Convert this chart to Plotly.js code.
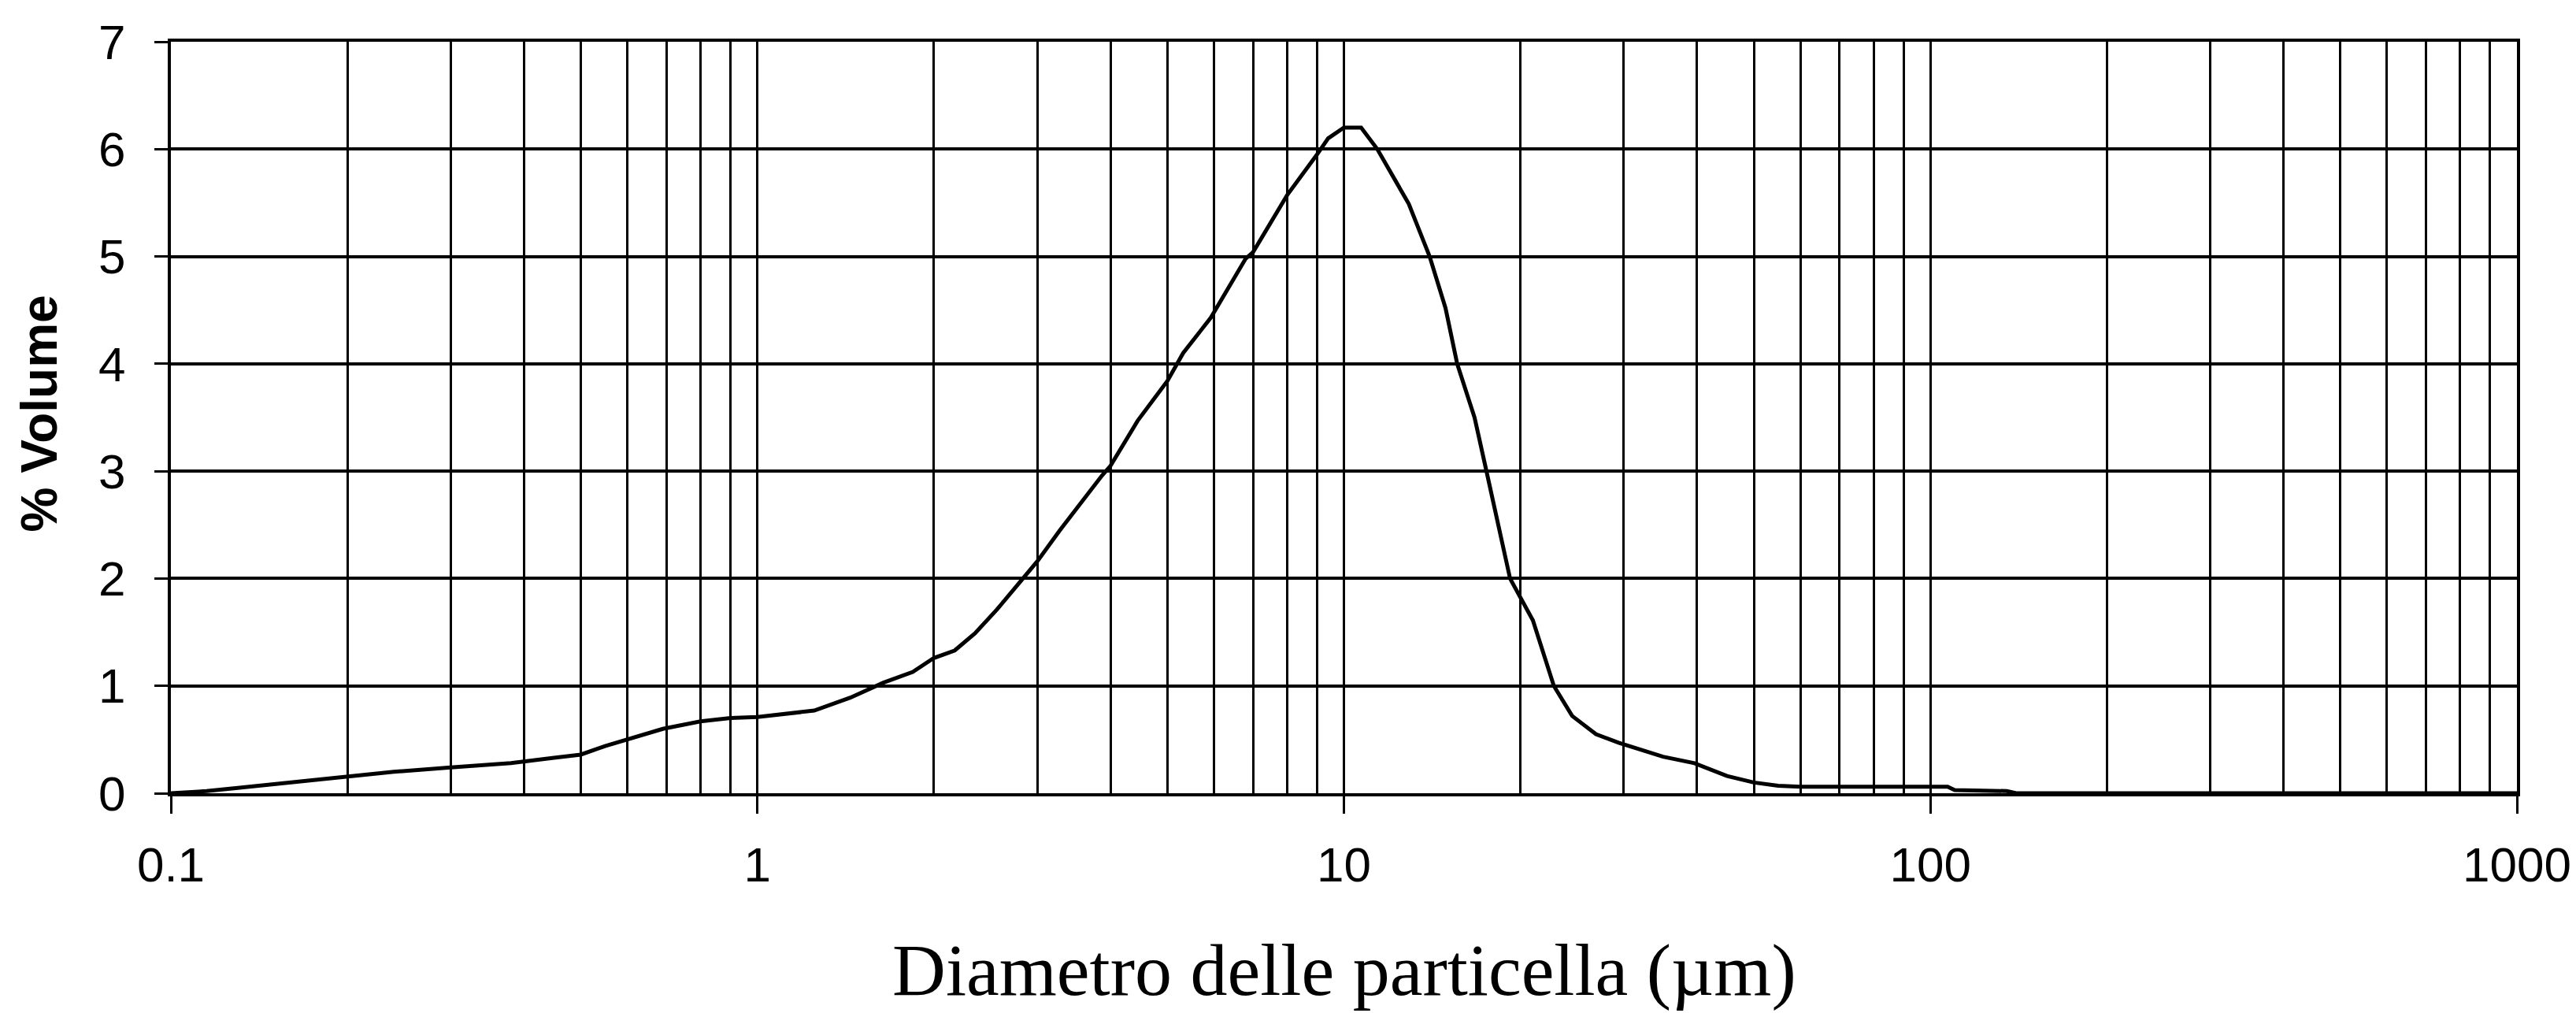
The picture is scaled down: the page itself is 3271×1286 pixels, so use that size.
<!DOCTYPE html>
<html>
<head>
<meta charset="utf-8">
<script src="https://cdn.plot.ly/plotly-3.0.1.min.js"></script>
<style>
  html, body { margin: 0; padding: 0; background: #ffffff; }
  #chart { width: 3271px; height: 1286px; }
</style>
</head>
<body>
<div id="chart"></div>
<script>
// Particle diameter (µm) and % volume
const diameter = [0.1, 0.115, 0.13, 0.16, 0.19, 0.24, 0.3, 0.38, 0.45, 0.5, 0.55, 0.6, 0.69, 0.8, 0.9, 1.0,
  1.25, 1.44, 1.64, 1.84, 2.0, 2.17, 2.35, 2.56, 2.78, 3.0, 3.28, 3.56, 3.87, 4.0, 4.45, 5.0, 5.32, 5.93,
  6.8, 7.0, 8.0, 9.0, 9.4, 10.0, 10.7, 11.4, 12.9, 14.0, 14.9, 15.6, 16.7, 17.5, 18.3, 19.2, 21.0, 22.8,
  24.5, 26.9, 29.4, 35, 39.6, 45, 50, 55, 60, 80, 107, 110, 135, 140, 200, 1000];
const volumePct = [0.0, 0.02, 0.05, 0.10, 0.15, 0.20, 0.24, 0.28, 0.33, 0.36, 0.44, 0.50, 0.60, 0.67, 0.70, 0.71,
  0.77, 0.89, 1.03, 1.13, 1.26, 1.33, 1.49, 1.71, 1.94, 2.16, 2.45, 2.71, 2.96, 3.05, 3.47, 3.84, 4.10, 4.43,
  4.98, 5.04, 5.57, 5.95, 6.1, 6.2, 6.2, 6.0, 5.49, 5.0, 4.52, 4.0, 3.5, 3.0, 2.5, 2.0, 1.61, 1.0,
  0.72, 0.55, 0.47, 0.34, 0.28, 0.16, 0.10, 0.07, 0.06, 0.06, 0.06, 0.03, 0.02, 0.0, 0.0, 0.0];

// Axis ticks
const xTickVals = [0.1, 1, 10, 100, 1000];
const xTickText = ["0.1", "1", "10", "100", "1000"];
const xMinorVals = [0.2, 0.3, 0.4, 0.5, 0.6, 0.7, 0.8, 0.9,
  2, 3, 4, 5, 6, 7, 8, 9,
  20, 30, 40, 50, 60, 70, 80, 90,
  200, 300, 400, 500, 600, 700, 800, 900];
const yTickVals = [0, 1, 2, 3, 4, 5, 6, 7];

const xTitle = "Diametro delle particella (µm)";
const yTitle = "% Volume";

const tickFont = { family: "'Liberation Sans Narrow', 'Arial Narrow', 'Liberation Sans', sans-serif", size: 62, color: "#000" };

const trace = {
  x: diameter,
  y: volumePct,
  type: "scatter",
  mode: "lines",
  line: { color: "#000000", width: 5 },
  hoverinfo: "skip",
  showlegend: false
};

const layout = {
  width: 3271,
  height: 1286,
  paper_bgcolor: "#ffffff",
  plot_bgcolor: "#ffffff",
  margin: { l: 217, r: 75, t: 53, b: 279 },
  showlegend: false,
  xaxis: {
    type: "log",
    range: [-1, 3],
    tickmode: "array",
    tickvals: xTickVals,
    ticktext: xTickText,
    ticks: "outside",
    ticklen: 22,
    tickwidth: 3,
    tickcolor: "#000",
    tickfont: tickFont,
    ticklabelstandoff: 12,
    showgrid: true,
    gridcolor: "#000",
    gridwidth: 3,
    minor: { tickmode: "array", tickvals: xMinorVals, showgrid: true, gridcolor: "#000", gridwidth: 3, ticks: "" },
    showline: true,
    mirror: true,
    linecolor: "#000",
    linewidth: 4,
    zeroline: false,
    fixedrange: true
  },
  yaxis: {
    range: [0, 7],
    tickmode: "array",
    tickvals: yTickVals,
    ticks: "outside",
    ticklen: 17,
    tickwidth: 3,
    tickcolor: "#000",
    tickfont: tickFont,
    ticklabelstandoff: 24,
    showgrid: true,
    gridcolor: "#000",
    gridwidth: 4,
    showline: true,
    mirror: true,
    linecolor: "#000",
    linewidth: 4,
    zeroline: false,
    fixedrange: true
  },
  annotations: [
    {
      text: xTitle,
      xref: "paper", yref: "paper",
      x: 0.5, y: -0.178,
      xanchor: "center", yanchor: "top",
      showarrow: false,
      font: { family: "'Liberation Serif', 'Times New Roman', serif", size: 94, color: "#000" }
    },
    {
      text: yTitle,
      xref: "paper", yref: "paper",
      x: -0.056, y: 0.505,
      xanchor: "center", yanchor: "middle",
      textangle: -90,
      showarrow: false,
      font: { family: "'Liberation Sans', Arial, sans-serif", size: 64, color: "#000", weight: "bold" }
    }
  ]
};

Plotly.newPlot("chart", [trace], layout, { staticPlot: true, displayModeBar: false });
</script>
</body>
</html>
